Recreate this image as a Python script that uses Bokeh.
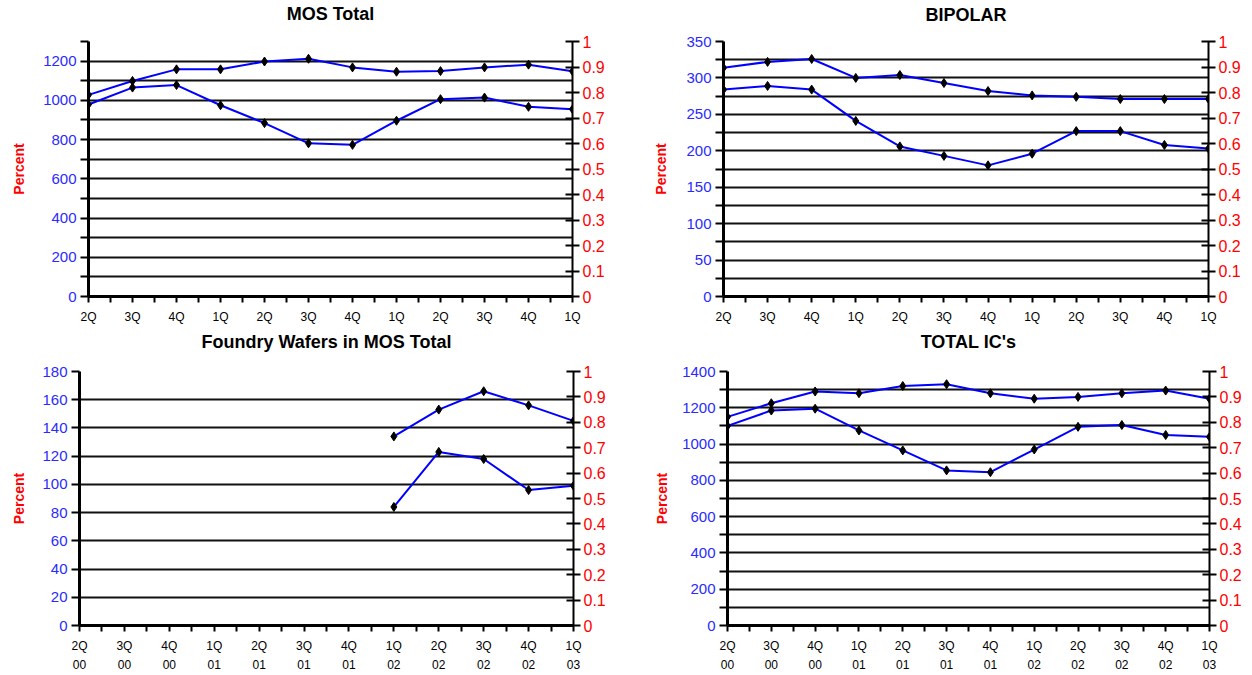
from bokeh.plotting import figure
from bokeh.models import Range1d, LinearAxis, FixedTicker, ColumnDataSource, Title
from bokeh.layouts import column, row
from bokeh.embed import file_html
from bokeh.resources import INLINE

nan = float("nan")

quarters = ["2Q", "3Q", "4Q", "1Q", "2Q", "3Q", "4Q", "1Q", "2Q", "3Q", "4Q", "1Q"]
years = ["00", "00", "00", "01", "01", "01", "01", "02", "02", "02", "02", "03"]
pct_ticks = [0.0, 0.1, 0.2, 0.3, 0.4, 0.5, 0.6, 0.7, 0.8, 0.9, 1.0]

mos_upper = [1028, 1099, 1158, 1158, 1198, 1212, 1168, 1146, 1149, 1168, 1182, 1148]
mos_lower = [979, 1065, 1078, 975, 884, 781, 773, 896, 1006, 1014, 967, 955]

bip_upper = [314, 322, 326, 300, 304, 293, 282, 276, 274, 271, 271, 271]
bip_lower = [284, 289, 284, 241, 206, 193, 180, 196, 227, 227, 208, 203]

fdy_upper = [nan, nan, nan, nan, nan, nan, nan, 134, 153, 166, 156, 145]
fdy_lower = [nan, nan, nan, nan, nan, nan, nan, 84, 123, 118, 96, 99]

tot_upper = [1150, 1225, 1290, 1280, 1320, 1330, 1280, 1250, 1260, 1280, 1295, 1250]
tot_lower = [1100, 1185, 1195, 1075, 965, 855, 845, 970, 1095, 1105, 1050, 1040]

FONT = "Liberation Sans"
BLUE_TXT = "#2a2aff"


def make_panel(title, y_max, grid_step, label_step, upper, lower, width, height,
               b_left, b_right, b_top, b_bottom, lab_standoff, title_standoff,
               spacer_standoff, show_years):
    xs = list(range(len(quarters)))
    p = figure(width=width, height=height, x_range=Range1d(0, len(quarters) - 1),
               y_range=Range1d(0, y_max), output_backend="svg", toolbar_location=None,
               min_border_left=b_left, min_border_right=b_right,
               min_border_top=b_top, min_border_bottom=b_bottom)
    p.outline_line_color = None

    # main title (outermost) and a blank spacer title next to the frame
    p.title.text = title
    p.title.align = "center"
    p.title.text_font = FONT
    p.title.text_font_size = "18px"
    p.title.text_font_style = "bold"
    p.title.text_color = "black"
    p.title.standoff = title_standoff
    p.add_layout(Title(text=" ", text_font_size="10px", standoff=spacer_standoff), "above")

    ticks = list(range(0, y_max + 1, grid_step))
    yax = p.yaxis[0]
    yax.ticker = FixedTicker(ticks=ticks, minor_ticks=[])
    yax.major_label_overrides = {t: (str(t) if t % label_step == 0 else "") for t in ticks}
    yax.major_label_text_color = BLUE_TXT
    yax.major_label_text_font = FONT
    yax.major_label_text_font_size = "15px"
    yax.major_label_standoff = 4
    yax.major_tick_out = 8
    yax.major_tick_in = 0
    yax.major_tick_line_width = 2
    yax.major_tick_line_color = "black"
    yax.axis_line_width = 3
    yax.axis_line_color = "black"
    yax.axis_label = "Percent"
    yax.axis_label_text_color = "red"
    yax.axis_label_text_font = FONT
    yax.axis_label_text_font_size = "14px"
    yax.axis_label_text_font_style = "bold"
    yax.axis_label_standoff = lab_standoff

    p.ygrid.ticker = FixedTicker(ticks=ticks)
    p.ygrid.grid_line_color = "#111111"
    p.ygrid.grid_line_width = 2
    p.xgrid.visible = False

    p.extra_y_ranges = {"pct": Range1d(0, 1)}
    rax = LinearAxis(y_range_name="pct", ticker=FixedTicker(ticks=pct_ticks, minor_ticks=[]))
    rax.major_label_overrides = {t: f"{t:g}" for t in pct_ticks}
    rax.major_label_text_color = "red"
    rax.major_label_text_font = FONT
    rax.major_label_text_font_size = "16px"
    rax.major_label_standoff = 3
    rax.major_tick_in = 7
    rax.major_tick_out = 7
    rax.major_tick_line_width = 2
    rax.major_tick_line_color = "black"
    rax.axis_line_width = 2
    rax.axis_line_color = "black"
    p.add_layout(rax, "right")

    xax = p.xaxis[0]
    xax.ticker = FixedTicker(ticks=xs, minor_ticks=[i + 0.5 for i in xs[:-1]])
    xax.major_label_overrides = {i: quarters[i] for i in xs}
    xax.major_label_text_font = FONT
    xax.major_label_text_font_size = "12px"
    xax.major_label_text_color = "black"
    xax.major_label_standoff = 7
    xax.major_tick_out = 6
    xax.major_tick_in = 0
    xax.minor_tick_out = 6
    xax.minor_tick_in = 0
    xax.major_tick_line_width = 2
    xax.minor_tick_line_width = 2
    xax.axis_line_width = 3
    xax.axis_line_color = "black"

    if show_years:
        yrax = LinearAxis(ticker=FixedTicker(ticks=xs, minor_ticks=[]))
        yrax.major_label_overrides = {i: years[i] for i in xs}
        yrax.major_label_text_font = FONT
        yrax.major_label_text_font_size = "12px"
        yrax.major_label_text_color = "black"
        yrax.axis_line_color = None
        yrax.major_tick_line_color = None
        yrax.minor_tick_line_color = None
        yrax.major_tick_out = 0
        yrax.major_tick_in = 0
        yrax.major_label_standoff = 4
        p.add_layout(yrax, "below")

    src = ColumnDataSource(dict(x=xs, upper=upper, lower=lower))
    for col in ("upper", "lower"):
        p.line("x", col, source=src, line_color="#0000ff", line_width=2)
        p.scatter("x", col, source=src, marker="diamond", size=9,
                  fill_color="black", line_color="black")
    return p


p1 = make_panel("MOS Total", 1300, 100, 200, mos_upper, mos_lower,
                628, 327, 88, 56, 39, 31, 13, 0, 5, False)
p2 = make_panel("BIPOLAR", 350, 25, 50, bip_upper, bip_lower,
                624, 327, 95, 44, 41, 28, 14, 4, 2, False)
p3 = make_panel("Foundry Wafers in MOS Total", 180, 20, 20, fdy_upper, fdy_lower,
                628, 348, 79, 55, 40, 50, 12, 0, 7, True)
p4 = make_panel("TOTAL IC's", 1400, 100, 200, tot_upper, tot_lower,
                624, 348, 99, 43, 44, 46, 9, 4, 5, True)

layout = column(row(p1, p2), row(p3, p4))
open("out.html", "w").write(file_html(layout, INLINE))
